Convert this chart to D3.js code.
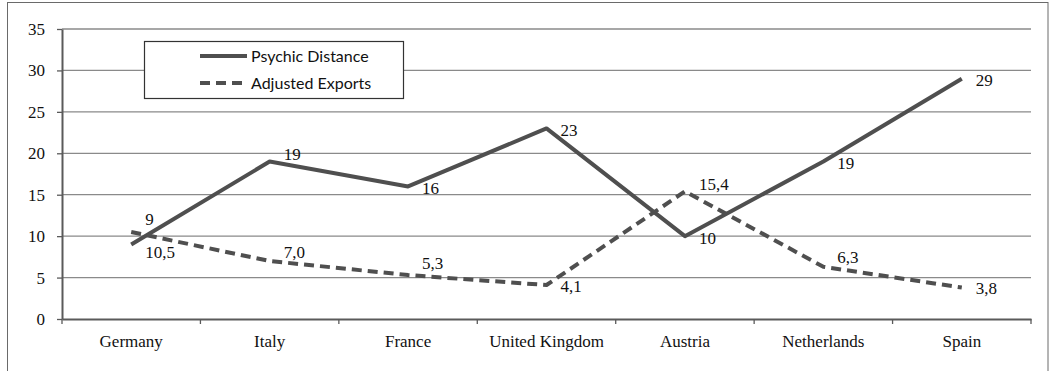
<!DOCTYPE html>
<html>
<head>
<meta charset="utf-8">
<script src="https://cdn.jsdelivr.net/npm/d3@7/dist/d3.min.js"></script>
<style>
  html, body { margin: 0; padding: 0; background: #fff; }
  svg { display: block; }
  .serif { font-family: "Liberation Serif", "Times New Roman", serif; font-size: 17px; fill: #111; }
  .sans { font-family: Lato, "Open Sans", sans-serif; font-size: 16px; fill: #111; }
</style>
</head>
<body>
<svg id="chart" width="1051" height="371"></svg>
<script>
// Countries along the x axis
const countries = ["Germany", "Italy", "France", "United Kingdom", "Austria", "Netherlands", "Spain"];
// Series values
const psychicDistance = [9, 19, 16, 23, 10, 19, 29];
const adjustedExports = [10.5, 7.0, 5.3, 4.1, 15.4, 6.3, 3.8];
// Value axis ticks
const yTicks = [0, 5, 10, 15, 20, 25, 30, 35];
const seriesNames = ["Psychic Distance", "Adjusted Exports"];

// Vertical nudges for the value labels so they clear the lines
const pdLabelShift = [-25, -8, 2, 2, 2, 1, 1];
const aeLabelShift = [20, -9, -12, 1, -7, -10, 1];

const svg = d3.select("#chart");
const x0 = 62, x1 = 1031, yTop = 29, yBot = 319;

const lineColor = "#4f4f4f";
const gridColor = "#8a8a8a";
const axisColor = "#5a5a5a";

// Outer frame
svg.append("rect")
  .attr("x", 7.5).attr("y", 2.5)
  .attr("width", 1040.5).attr("height", 400)
  .attr("fill", "none").attr("stroke", "#6a6a6a").attr("stroke-width", 1);

const x = d3.scaleBand().domain(countries).range([x0, x1]).paddingInner(0).paddingOuter(0);
const y = d3.scaleLinear().domain([0, 35]).range([yBot, yTop]);
const cx = d => x(d) + x.bandwidth() / 2;

// Horizontal gridlines
svg.append("g")
  .selectAll("line")
  .data(yTicks.filter(t => t > 0))
  .join("line")
  .attr("x1", x0).attr("x2", x1)
  .attr("y1", d => y(d)).attr("y2", d => y(d))
  .attr("stroke", gridColor).attr("stroke-width", 1.3);

// Y axis
const yAxis = svg.append("g")
  .attr("transform", `translate(${x0},0)`)
  .call(d3.axisLeft(y).tickValues(yTicks).tickSize(5).tickPadding(12).tickSizeOuter(0));
yAxis.attr("font-family", null).attr("font-size", null);
yAxis.select(".domain").attr("stroke", axisColor).attr("stroke-width", 2);
yAxis.selectAll(".tick line").attr("stroke", axisColor).attr("stroke-width", 1.3);
yAxis.selectAll(".tick text").attr("class", "serif").attr("fill", null);

// X axis with ticks at category boundaries
const xAxis = svg.append("g")
  .attr("transform", `translate(0,${yBot})`)
  .call(d3.axisBottom(x).tickSize(0).tickPadding(16).tickSizeOuter(0));
xAxis.attr("font-family", null).attr("font-size", null);
xAxis.select(".domain").attr("stroke", axisColor).attr("stroke-width", 2.2);
xAxis.selectAll(".tick text").attr("class", "serif").attr("fill", null);
const boundaries = countries.map(c => x(c)).concat([x1]);
svg.append("g")
  .selectAll("line")
  .data(boundaries)
  .join("line")
  .attr("x1", d => d).attr("x2", d => d)
  .attr("y1", yBot).attr("y2", yBot + 5)
  .attr("stroke", axisColor).attr("stroke-width", 1.3);

// Series lines
const line = d3.line().x((d, i) => cx(countries[i])).y(d => y(d));

svg.append("path")
  .datum(psychicDistance)
  .attr("d", line)
  .attr("fill", "none").attr("stroke", lineColor)
  .attr("stroke-width", 4).attr("stroke-linejoin", "round");

svg.append("path")
  .datum(adjustedExports)
  .attr("d", line)
  .attr("fill", "none").attr("stroke", lineColor)
  .attr("stroke-width", 4).attr("stroke-linejoin", "round")
  .attr("stroke-dasharray", "10,6");

// Value labels
const fmtComma = v => v.toFixed(1).replace(".", ",");
function labels(values, shifts, fmt) {
  svg.append("g")
    .selectAll("text")
    .data(values)
    .join("text")
    .attr("class", "serif")
    .attr("x", (d, i) => cx(countries[i]) + 14)
    .attr("y", (d, i) => y(d) + shifts[i])
    .attr("dy", "0.35em")
    .text(d => fmt(d));
}
labels(psychicDistance, pdLabelShift, d => String(d));
labels(adjustedExports, aeLabelShift, fmtComma);

// Legend
const legend = svg.append("g");
legend.append("rect")
  .attr("x", 144.5).attr("y", 41.5).attr("width", 259).attr("height", 57)
  .attr("fill", "#fff").attr("stroke", "#333").attr("stroke-width", 1.2);
const legendRows = [
  { name: seriesNames[0], dash: null, yy: 56 },
  { name: seriesNames[1], dash: "10,6", yy: 83 }
];
legendRows.forEach(r => {
  legend.append("line")
    .attr("x1", 200).attr("x2", 247)
    .attr("y1", r.yy).attr("y2", r.yy)
    .attr("stroke", lineColor).attr("stroke-width", 4)
    .attr("stroke-dasharray", r.dash);
  legend.append("text")
    .attr("class", "sans")
    .attr("x", 251).attr("y", r.yy).attr("dy", "0.35em")
    .text(r.name);
});
</script>
</body>
</html>
